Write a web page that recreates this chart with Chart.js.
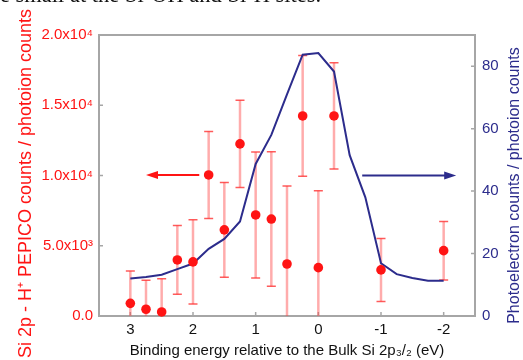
<!DOCTYPE html>
<html>
<head>
<meta charset="utf-8">
<script src="https://cdn.jsdelivr.net/npm/chart.js@4.4.1/dist/chart.umd.min.js"></script>
<style>
    html, body { margin: 0; padding: 0; background: #fff; }
    #wrap { position: relative; width: 523px; height: 360px; overflow: hidden; }
    #chart { position: absolute; left: 0; top: 0; }
    #caption {
        position: absolute; left: 0; top: -16px;
        font: 22.5px/22px "Liberation Serif", serif; color: #111; white-space: nowrap;
    }
</style>
</head>
<body>
<div id="wrap">
    <canvas id="chart" width="523" height="360"></canvas>
    <div id="caption">e small at the Si-OH and Si-H sites.</div>
</div>
<script>
// PEPICO points (left axis)
const energies = [3.0, 2.75, 2.5, 2.25, 2.0, 1.75, 1.5, 1.25, 1.0, 0.75, 0.5, 0.25, 0.0, -0.25, -1.0, -2.0];
const pepico = [900, 480, 290, 3990, 3850, 10040, 6130, 12250, 7190, 6900, 3700, 14240, 3440, 14240, 3280, 4650];
const pepicoErr = [2300, 2070, 2370, 2450, 3000, 3100, 3380, 3100, 4480, 4790, 5560, 4300, 5480, 3780, 2240, 2080];

// photoelectron spectrum (right axis)
const peEnergies = [3.0, 2.75, 2.5, 2.25, 2.0, 1.75, 1.5, 1.25, 1.0, 0.75, 0.5, 0.25, 0.0, -0.25, -0.5, -0.75, -1.0, -1.25, -1.5, -1.75, -2.0];
const peCounts = [12.0, 12.5, 13.2, 15.0, 16.8, 21.5, 24.7, 30.3, 48.7, 58.0, 71.0, 83.7, 84.2, 78.3, 51.5, 38.0, 16.9, 13.4, 12.2, 11.3, 11.3];

// ticks
const xTicks = [3, 2, 1, 0, -1, -2];
const leftTicks = [0, 5000, 10000, 15000, 20000];
const leftTickLabels = ['0.0', '5.0x10³', '1.0x10⁴', '1.5x10⁴', '2.0x10⁴'];
const rightTicks = [0, 20, 40, 60, 80];

// arrows: [from energy, to energy (head), value]
const pepicoArrow = [1.9, 2.75, 10040];
const photoArrow = [-0.7, -2.2, 45];

const RED = '#ff1414';
const NAVY = '#2c2c8c';
const FRAME = '#a6a6a6';
const FONT = '"Liberation Sans", Arial, sans-serif';

const fixedSize = (size, key) => scale => { scale[key] = size; };
const setTicks = values => scale => { scale.ticks = values.map(value => ({ value })); };

function drawArrow(ctx, x1, x2, y, color) {
    const dir = Math.sign(x2 - x1);
    ctx.strokeStyle = color;
    ctx.fillStyle = color;
    ctx.lineWidth = 2;
    ctx.beginPath();
    ctx.moveTo(x1, y);
    ctx.lineTo(x2 - dir * 8, y);
    ctx.stroke();
    ctx.beginPath();
    ctx.moveTo(x2, y);
    ctx.lineTo(x2 - dir * 12, y - 4);
    ctx.lineTo(x2 - dir * 12, y + 4);
    ctx.closePath();
    ctx.fill();
}

function drawVerticalTitle(ctx, text, x, y, color, size) {
    ctx.save();
    ctx.font = `${size}px ${FONT}`;
    ctx.fillStyle = color;
    ctx.textAlign = 'center';
    ctx.textBaseline = 'middle';
    ctx.translate(x, y);
    ctx.rotate(-Math.PI / 2);
    ctx.fillText(text, 0, 0);
    ctx.restore();
}

const decorations = {
    id: 'decorations',
    beforeDatasetsDraw(chart) {
        const { ctx, chartArea: area, scales: { x, y, y2 } } = chart;
        ctx.save();

        // frame
        ctx.strokeStyle = FRAME;
        ctx.lineWidth = 2;
        ctx.strokeRect(area.left, area.top, area.right - area.left, area.bottom - area.top);

        // inward tick marks
        ctx.lineWidth = 1.5;
        ctx.beginPath();
        xTicks.forEach(v => {
            const px = x.getPixelForValue(v);
            ctx.moveTo(px, area.bottom);
            ctx.lineTo(px, area.bottom - 4);
        });
        leftTicks.forEach(v => {
            const py = y.getPixelForValue(v);
            ctx.moveTo(area.left, py);
            ctx.lineTo(area.left + 4, py);
        });
        rightTicks.forEach(v => {
            const py = y2.getPixelForValue(v);
            ctx.moveTo(area.right, py);
            ctx.lineTo(area.right - 4, py);
        });
        ctx.stroke();

        // error bars, clipped to the plot
        ctx.beginPath();
        ctx.rect(area.left, area.top, area.right - area.left, area.bottom - area.top);
        ctx.clip();
        energies.forEach((e, i) => {
            const px = x.getPixelForValue(e);
            const top = y.getPixelForValue(pepico[i] + pepicoErr[i]);
            const bottom = y.getPixelForValue(pepico[i] - pepicoErr[i]);
            ctx.strokeStyle = 'rgba(255, 70, 70, 0.45)';
            ctx.lineWidth = 2.5;
            ctx.beginPath();
            ctx.moveTo(px, top);
            ctx.lineTo(px, bottom);
            ctx.stroke();
            ctx.strokeStyle = 'rgba(255, 50, 50, 0.8)';
            ctx.lineWidth = 1.5;
            ctx.beginPath();
            ctx.moveTo(px - 4.5, top);
            ctx.lineTo(px + 4.5, top);
            ctx.moveTo(px - 4.5, bottom);
            ctx.lineTo(px + 4.5, bottom);
            ctx.stroke();
        });
        ctx.restore();
    },
    afterDatasetsDraw(chart) {
        const { ctx, scales: { x, y, y2 } } = chart;
        ctx.save();
        drawArrow(ctx, x.getPixelForValue(pepicoArrow[0]), x.getPixelForValue(pepicoArrow[1]),
            y.getPixelForValue(pepicoArrow[2]), RED);
        drawArrow(ctx, x.getPixelForValue(photoArrow[0]), x.getPixelForValue(photoArrow[1]),
            y2.getPixelForValue(photoArrow[2]), NAVY);
        ctx.restore();
    },
    afterDraw(chart) {
        // both axis titles read bottom to top
        const { ctx, chartArea: area } = chart;
        const mid = (area.top + area.bottom) / 2;
        drawVerticalTitle(ctx, 'Si 2p - H⁺ PEPICO counts / photoion counts', 26, mid + 8, RED, 18);
        drawVerticalTitle(ctx, 'Photoelectron counts / photoion counts', 515, mid + 10, NAVY, 16);
    },
};

new Chart(document.getElementById('chart'), {
    type: 'scatter',
    data: {
        datasets: [{
            label: 'PEPICO',
            data: energies.map((e, i) => ({ x: e, y: pepico[i] })),
            yAxisID: 'y',
            backgroundColor: RED,
            borderWidth: 0,
            pointRadius: 4.8,
            clip: false,
            order: 0,
        }, {
            label: 'Photoelectron',
            data: peEnergies.map((e, i) => ({ x: e, y: peCounts[i] })),
            yAxisID: 'y2',
            showLine: true,
            borderColor: NAVY,
            borderWidth: 2,
            pointRadius: 0,
            tension: 0,
            order: 1,
        }],
    },
    options: {
        responsive: false,
        animation: false,
        devicePixelRatio: 1,
        layout: { padding: { top: 35, left: 0, right: 0, bottom: 0 } },
        plugins: { legend: { display: false }, tooltip: { enabled: false } },
        scales: {
            x: {
                type: 'linear',
                reverse: true,
                min: -2.5,
                max: 3.5,
                afterBuildTicks: setTicks(xTicks),
                afterFit: fixedSize(44, 'height'),
                grid: { display: false, drawTicks: false },
                border: { display: false },
                ticks: { color: '#111', font: { family: FONT, size: 15 }, padding: 5, maxRotation: 0 },
                title: {
                    display: true,
                    text: 'Binding energy relative to the Bulk Si 2p₃/₂ (eV)',
                    color: '#111',
                    font: { family: FONT, size: 15 },
                    padding: { top: 0, bottom: 0 },
                },
            },
            y: {
                position: 'left',
                min: 0,
                max: 20000,
                afterBuildTicks: setTicks(leftTicks),
                afterFit: fixedSize(99, 'width'),
                grid: { display: false, drawTicks: false },
                border: { display: false },
                ticks: {
                    color: RED,
                    font: { family: FONT, size: 15 },
                    padding: 6,
                    callback: value => leftTickLabels[leftTicks.indexOf(value)],
                },
            },
            y2: {
                position: 'right',
                min: 0,
                max: 90,
                afterBuildTicks: setTicks(rightTicks),
                afterFit: fixedSize(48, 'width'),
                grid: { display: false, drawTicks: false },
                border: { display: false },
                ticks: { color: NAVY, font: { family: FONT, size: 15 }, padding: 7 },
            },
        },
    },
    plugins: [decorations],
});
</script>
</body>
</html>
